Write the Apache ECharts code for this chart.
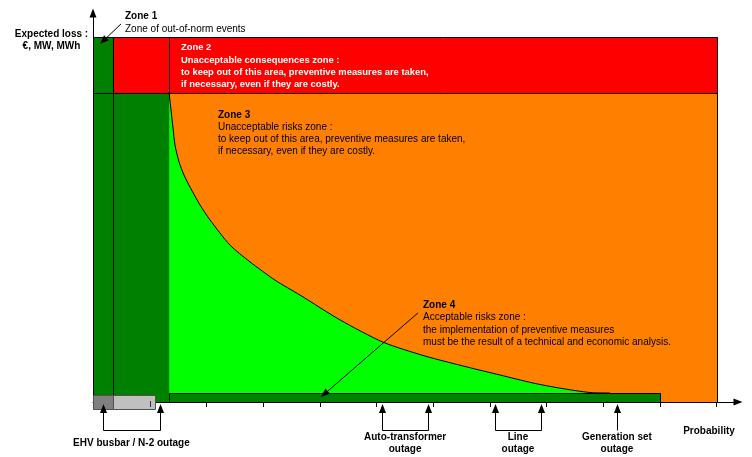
<!DOCTYPE html>
<html>
<head>
<meta charset="utf-8">
<script src="https://cdn.jsdelivr.net/npm/echarts@6/dist/echarts.min.js"></script>
<style>html,body{margin:0;padding:0;background:#fff}#c{width:752px;height:457px}</style>
</head>
<body>
<div id="c"></div>
<script>
// ---- data (probability on x, expected loss on y) ----
const xTicks = [1, 2, 3, 4, 5, 6, 7, 8, 9, 10, 11];
// zone rectangles: probability from/to, loss from/to
const zoneX0 = [0, 0, 0.353, 1.342, 0.353, 1.342];
const zoneX1 = [0.353, 0.353, 1.342, 11, 1.342, 11];
const zoneY0 = [84.7, 0, 84.7, 84.7, 0, 0];
const zoneY1 = [100, 84.7, 100, 100, 84.7, 84.7];
// acceptable risk curve
const curveProb = [1.342, 1.376, 1.411, 1.446, 1.517, 1.605, 1.711, 1.887, 2.063, 2.416, 2.769, 3.210, 3.651, 4.356, 5.115, 5.855, 6.596, 7.178, 7.760, 8.236, 8.765, 9.118];
const curveLoss = [84.7, 80.0, 75.1, 70.4, 65.8, 62.2, 58.9, 54.0, 49.9, 43.0, 38.4, 33.4, 29.3, 22.5, 16.4, 12.6, 9.6, 7.4, 5.2, 3.8, 2.6, 2.47];
// acceptable band along the axis and EHV boxes
const bandX0 = [1.342, 0, 0.353];
const bandX1 = [10, 0.353, 1.09];
const bandY0 = [0, -1.92, -1.92];
const bandY1 = [2.47, 1.92, 1.92];
// outages (probability ranges)
const outageLabels = ['EHV busbar / N-2 outage', 'Auto-transformer\noutage', 'Line\noutage', 'Generation set\noutage'];
const outageFrom = [0.176, 5.10, 7.09, 9.24];
const outageTo = [1.18, 5.91, 7.90, 9.24];
// pointer arrows (from -> to)
const pointerFromX = [0.494, 5.73];
const pointerFromY = [103.6, 24.4];
const pointerToX = [0.123, 4.02];
const pointerToY = [98.1, 1.37];

// ---- styles ----
const zoneColors = ['#008000', '#008000', '#FF0000', '#FF0000', '#008000', '#FF8000'];
const bandColors = ['#008000', '#808080', '#C0C0C0'];
const bandStroke = ['#000', '#505050', '#505050'];
const FF = '"Liberation Sans", Arial, sans-serif';

function rectRender(colors, strokes) {
  return function (params, api) {
    const a = api.coord([api.value(0), api.value(3)]);
    const b = api.coord([api.value(1), api.value(2)]);
    const ax = Math.round(a[0]), ay = Math.round(a[1]);
    const bx = Math.round(b[0]), by = Math.round(b[1]);
    return {
      type: 'rect',
      shape: {x: ax + 0.5, y: ay + 0.5, width: bx - ax, height: by - ay},
      style: {fill: colors[params.dataIndex], stroke: strokes ? strokes[params.dataIndex] : '#000', lineWidth: 1}
    };
  };
}

function arrowHead(tip, dx, dy, len, half) {
  const bx = tip[0] - dx * len, by = tip[1] - dy * len;
  const nx = -dy, ny = dx;
  return {
    base: [bx, by],
    el: {type: 'polygon', shape: {points: [[tip[0], tip[1]], [bx + nx * half, by + ny * half], [bx - nx * half, by - ny * half]]}, style: {fill: '#000'}}
  };
}

const chart = echarts.init(document.getElementById('c'), null, {renderer: 'canvas'});
const option = {
  animation: false,
  backgroundColor: '#fff',
  grid: {left: 93, right: 14, top: 13, bottom: 55},
  xAxis: {
    type: 'value', min: 0, max: 11.375,
    axisLine: {show: true, onZero: false, lineStyle: {color: '#000', width: 1}, symbol: ['none', 'triangle'], symbolSize: [7, 9]},
    axisTick: {show: true, customValues: xTicks, length: 5, lineStyle: {color: '#000', width: 1}},
    axisLabel: {show: false},
    splitLine: {show: false}
  },
  yAxis: {
    type: 'value', min: 0, max: 106.6,
    axisLine: {show: true, onZero: false, lineStyle: {color: '#000', width: 1}, symbol: ['none', 'triangle'], symbolSize: [7, 9]},
    axisTick: {show: false},
    axisLabel: {show: false},
    splitLine: {show: false}
  },
  series: [
    {
      type: 'custom', z: 2, clip: false,
      renderItem: rectRender(zoneColors),
      data: zoneX0.map((x, i) => [x, zoneX1[i], zoneY0[i], zoneY1[i]])
    },
    {
      type: 'line', z: 3, showSymbol: false, symbol: 'none',
      smooth: 0.25,
      lineStyle: {color: '#000', width: 1},
      areaStyle: {color: '#00FF00', opacity: 1},
      data: curveProb.map((x, i) => [x, curveLoss[i]])
    },
    {
      type: 'custom', z: 4, clip: false,
      renderItem: rectRender(bandColors, bandStroke),
      data: bandX0.map((x, i) => [x, bandX1[i], bandY0[i], bandY1[i]])
    },
    {
      type: 'custom', z: 5, clip: false,
      renderItem: function (params, api) {
        const f = api.value(0), t = api.value(1);
        const pf = api.coord([f, 0]), pt = api.coord([t, 0]);
        const axisY = pf[1];
        const children = [];
        const xs = f === t ? [pf[0]] : [pf[0], pt[0]];
        xs.forEach(function (x) {
          const xx = Math.round(x) + 0.5;
          const h = arrowHead([xx, axisY + 2], 0, -1, 9, 3.5);
          children.push(h.el);
          children.push({type: 'line', shape: {x1: xx, y1: h.base[1], x2: xx, y2: Math.round(axisY + 28) + 0.5}, style: {stroke: '#000', lineWidth: 1}});
        });
        if (f !== t) {
          children.push({type: 'line', shape: {x1: Math.round(pf[0]) + 0.5, y1: Math.round(axisY + 28) + 0.5, x2: Math.round(pt[0]) + 0.5, y2: Math.round(axisY + 28) + 0.5}, style: {stroke: '#000', lineWidth: 1}});
        }
        children.push({type: 'text', x: (pf[0] + pt[0]) / 2, y: axisY + 41,
          style: {text: outageLabels[params.dataIndex], font: 'bold 10px ' + FF, fill: '#000', textAlign: 'center', textVerticalAlign: 'middle', lineHeight: 12.5}});
        return {type: 'group', children: children};
      },
      data: outageFrom.map((f, i) => [f, outageTo[i]])
    },
    {
      type: 'custom', z: 6, clip: false,
      renderItem: function (params, api) {
        const s = api.coord([api.value(0), api.value(1)]);
        const e = api.coord([api.value(2), api.value(3)]);
        const L = Math.hypot(e[0] - s[0], e[1] - s[1]);
        const dx = (e[0] - s[0]) / L, dy = (e[1] - s[1]) / L;
        const h = arrowHead(e, dx, dy, 9, 3.5);
        return {type: 'group', children: [
          {type: 'line', shape: {x1: s[0], y1: s[1], x2: h.base[0], y2: h.base[1]}, style: {stroke: '#000', lineWidth: 1}},
          h.el
        ]};
      },
      data: pointerFromX.map((x, i) => [x, pointerFromY[i], pointerToX[i], pointerToY[i]])
    },
    {
      type: 'custom', z: 7, clip: false,
      renderItem: function (params, api) {
        const p = api.coord([api.value(0), 0]);
        const xx = Math.round(p[0]) + 0.5;
        return {type: 'line', shape: {x1: xx, y1: p[1] - 1, x2: xx, y2: p[1] + 5}, style: {stroke: '#303030', lineWidth: 1}};
      },
      data: [[xTicks[0]]]
    }
  ],
  graphic: [
    {type: 'text', x: 51.5, y: 40, z: 10, style: {text: 'Expected loss :\n€, MW, MWh', font: 'bold 10px ' + FF, fill: '#000', textAlign: 'center', textVerticalAlign: 'middle', lineHeight: 12}},
    {type: 'text', x: 125, y: 16.7, z: 10, style: {text: 'Zone 1', font: 'bold 10px ' + FF, fill: '#000', textAlign: 'left', textVerticalAlign: 'middle'}},
    {type: 'text', x: 125, y: 29.3, z: 10, style: {text: 'Zone of out-of-norm events', font: '10px ' + FF, fill: '#000', textAlign: 'left', textVerticalAlign: 'middle'}},
    {type: 'text', x: 181, y: 47.7, z: 10, style: {text: 'Zone 2', font: 'bold 9.4px ' + FF, fill: '#fff', textAlign: 'left', textVerticalAlign: 'middle'}},
    {type: 'text', x: 181, y: 72, z: 10, style: {text: 'Unacceptable consequences zone :\nto keep out of this area, preventive measures are taken,\nif necessary, even if they are costly.', font: 'bold 9.4px ' + FF, fill: '#fff', textAlign: 'left', textVerticalAlign: 'middle', lineHeight: 12}},
    {type: 'text', x: 218, y: 115, z: 10, style: {text: 'Zone 3', font: 'bold 10px ' + FF, fill: '#000', textAlign: 'left', textVerticalAlign: 'middle'}},
    {type: 'text', x: 218, y: 138.8, z: 10, style: {text: 'Unacceptable risks zone :\nto keep out of this area, preventive measures are taken,\nif necessary, even if they are costly.', font: '10px ' + FF, fill: '#000', textAlign: 'left', textVerticalAlign: 'middle', lineHeight: 12}},
    {type: 'text', x: 423, y: 305.7, z: 10, style: {text: 'Zone 4', font: 'bold 10px ' + FF, fill: '#000', textAlign: 'left', textVerticalAlign: 'middle'}},
    {type: 'text', x: 423, y: 330, z: 10, style: {text: 'Acceptable risks zone :\nthe implementation of preventive measures\nmust be the result of a technical and economic analysis.', font: '10px ' + FF, fill: '#000', textAlign: 'left', textVerticalAlign: 'middle', lineHeight: 12.3}},
    {type: 'text', x: 709, y: 431, z: 10, style: {text: 'Probability', font: 'bold 10px ' + FF, fill: '#000', textAlign: 'center', textVerticalAlign: 'middle'}}
  ]
};
chart.setOption(option);
</script>
</body>
</html>
